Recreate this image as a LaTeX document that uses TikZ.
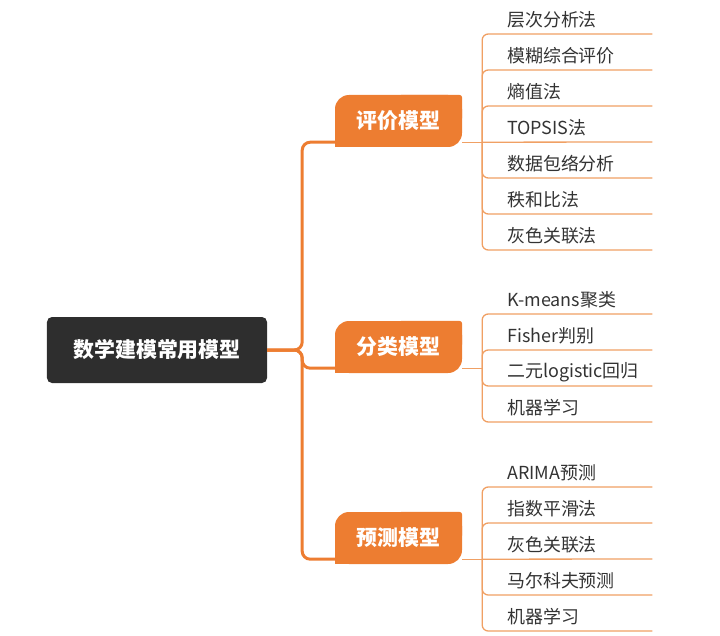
\documentclass[tikz,border=0pt]{standalone}
\usepackage{fontspec}
\setmainfont{Noto Sans CJK SC}
\usepackage{xcolor}
\usepackage{tikz}
\usetikzlibrary{
    positioning,
    calc
}
\pgfdeclarelayer{background}
\pgfsetlayers{background,main}

\definecolor{mmorange}{HTML}{ED7D31}
\definecolor{mmtwig}{HTML}{F0A064}
\definecolor{mmroot}{HTML}{2E2E2E}
\definecolor{mmtext}{HTML}{333333}

\begin{document}
\begin{tikzpicture}[
      x=1bp, y=-1bp,
      root/.style={fill=mmroot, rounded corners=5bp, minimum width=220bp, minimum height=66bp, inner sep=0pt, text=white, font=\fontsize{21}{24}\selectfont\bfseries},
      cat/.style={fill=mmorange, rounded corners=14bp, minimum width=127bp, minimum height=52bp, inner sep=0pt, text=white, font=\fontsize{21}{24}\selectfont\bfseries},
      leaf/.style={anchor=south west, text width=145bp, minimum height=28bp, inner sep=0pt, align=left, text=mmtext, font=\fontsize{18}{20}\selectfont},
      trunk/.style={draw=mmorange, line width=3bp, rounded corners=8bp},
      twig/.style={draw=mmtwig, line width=1.3bp, rounded corners=6bp}
    ]
    \useasboundingbox (0,0) rectangle (720,636);

    \node[root] (root) at (157,350) {数学建模常用模型};

    \node[cat] (c1) at (398.5,121) {评价模型};
    \node[cat] (c2) at (398.5,347) {分类模型};
    \node[cat] (c3) at (398.5,538) {预测模型};

    % square off the top right and bottom left corners
    \begin{pgfonlayer}{background}
      \foreach \c in {c1,c2,c3} {
        \fill[mmorange, rounded corners=3bp] (\c.north) rectangle (\c.east);
        \fill[mmorange] (\c.west) rectangle (\c.south);
      }
    \end{pgfonlayer}

    \coordinate (t0) at ($(root.east)+(35,0)$);
    \coordinate (c1in) at ($(c1.south west)+(0,-5)$);
    \coordinate (c2in) at ($(c2.south west)+(0,-5)$);
    \coordinate (c3in) at ($(c3.south west)+(0,-5)$);
    \coordinate (c1out) at ($(c1.south east)+(0,-5)$);
    \coordinate (c2out) at ($(c2.south east)+(0,-5)$);
    \coordinate (c3out) at ($(c3.south east)+(0,-5)$);
    \coordinate (j1) at ($(c1out)+(20,0)$);
    \coordinate (j2) at ($(c2out)+(20,0)$);
    \coordinate (j3) at ($(c3out)+(20,0)$);

    \draw[trunk] (root.east) -- (t0) |- (c1in);
    \draw[trunk] (root.east) -- (t0) |- (c2in);
    \draw[trunk] (root.east) -- (t0) |- (c3in);

    % evaluation models
    \node[leaf] (l11) at (507,34) {层次分析法};
    \node[leaf] (l12) at (507,70) {模糊综合评价};
    \node[leaf] (l13) at (507,106) {熵值法};
    \node[leaf] (l14) at (507,142) {TOPSIS法};
    \node[leaf] (l15) at (507,178) {数据包络分析};
    \node[leaf] (l16) at (507,214) {秩和比法};
    \node[leaf] (l17) at (507,250) {灰色关联法};

    % classification models
    \node[leaf] (l21) at (507,314) {K-means聚类};
    \node[leaf] (l22) at (507,350) {Fisher判别};
    \node[leaf] (l23) at (507,386) {二元logistic回归};
    \node[leaf] (l24) at (507,422) {机器学习};

    % prediction models
    \node[leaf] (l31) at (507,487) {ARIMA预测};
    \node[leaf] (l32) at (507,523) {指数平滑法};
    \node[leaf] (l33) at (507,559) {灰色关联法};
    \node[leaf] (l34) at (507,595) {马尔科夫预测};
    \node[leaf] (l35) at (507,631) {机器学习};

    \draw[twig] (c1out) -- (j1);
    \draw[twig] (c2out) -- (j2);
    \draw[twig] (c3out) -- (j3);

    \draw[twig] (j1) |- (l11.south east);
    \draw[twig] (j1) |- (l12.south east);
    \draw[twig] (j1) |- (l13.south east);
    \draw[twig] (j1) -- (l14.south east);
    \draw[twig] (j1) |- (l15.south east);
    \draw[twig] (j1) |- (l16.south east);
    \draw[twig] (j1) |- (l17.south east);

    \draw[twig] (j2) |- (l21.south east);
    \draw[twig] (j2) |- (l22.south east);
    \draw[twig] (j2) |- (l23.south east);
    \draw[twig] (j2) |- (l24.south east);

    \draw[twig] (j3) |- (l31.south east);
    \draw[twig] (j3) |- (l32.south east);
    \draw[twig] (j3) -- (l33.south east);
    \draw[twig] (j3) |- (l34.south east);
    \draw[twig] (j3) |- (l35.south east);
  \end{tikzpicture}
\end{document}
